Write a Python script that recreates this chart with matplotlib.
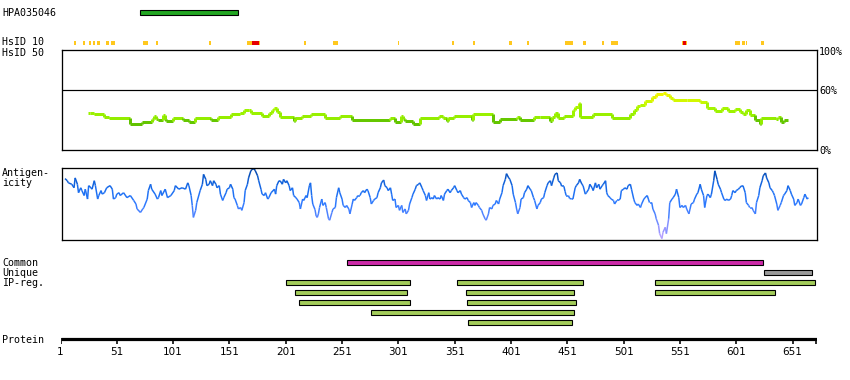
import matplotlib
matplotlib.use("Agg")
import matplotlib.pyplot as plt
from matplotlib.collections import LineCollection
from matplotlib.colors import LinearSegmentedColormap, Normalize

# ---------------- data (residue positions) ----------------
protein_len = 672
tick_pos = [1, 51, 101, 151, 201, 251, 301, 351, 401, 451, 501, 551, 601, 651]

antibody_name = "HPA035046"
antibody_span = (72, 159)

hsid10_yellow = [(13, 15), (21, 23), (26, 28), (30, 32), (33, 36), (41, 44), (46, 49),
                 (74, 79), (86, 88), (133, 135), (167, 171), (177, 178), (217, 219),
                 (243, 247), (301, 302), (349, 350), (367, 369), (399, 402), (415, 417),
                 (449, 456), (465, 468), (482, 484), (490, 496), (553, 557), (600, 604),
                 (606, 609), (609.5, 611), (623, 626)]
hsid10_red = [(171, 177), (554, 556)]

common_span = (255, 625)
unique_span = (626, 668)
ipreg_rows = [
    [(201, 311), (353, 465), (529, 671)],
    [(209, 309), (361, 457), (529, 635)],
    [(213, 311), (362, 459)],
    [(277, 457)],
    [(363, 455)],
]

# similarity (HsID 50), percent, drawn as steps
sim_res = [25, 27, 31, 40, 44, 63, 73, 82, 84, 86, 88, 92, 94, 95, 101, 110, 115, 120, 135,
           141, 152, 160, 164, 168, 170, 180, 186, 189, 191, 193, 196, 208, 209, 215, 223,
           236, 249, 260, 294, 298, 303, 305, 307, 314, 320, 337, 341, 344, 345, 350, 366,
           367, 385, 391, 406, 409, 421, 427, 436, 437, 440, 443, 448, 456, 458, 461, 462,
           474, 491, 507, 510, 513, 516, 520, 526, 530, 536, 539, 542, 545, 557, 569, 575,
           582, 588, 594, 600, 604, 607, 610, 613, 618, 622, 623, 636, 638, 641, 643]
sim_val = [37.5, 37, 36, 33.5, 32, 25.7, 28.3, 31, 34, 31, 30, 35, 31, 29, 31.7, 30, 27.7, 31.7, 30,
           33.3, 36, 37.5, 40, 40.5, 37.3, 34.3, 37, 40, 42.3, 38, 33.3, 29, 31.7, 34.3, 35.7,
           32.3, 34.3, 30, 31.7, 27.7, 34, 31, 29, 25.7, 31.7, 34, 31.7, 29, 31.7, 34.3, 30,
           36.3, 28.3, 30.7, 32.7, 30, 33.3, 32.7, 29.5, 32.7, 36.7, 31.7, 34.3, 40, 43, 46.7, 33.3,
           36, 32, 36, 40, 44, 45, 49, 53.3, 56, 57, 55, 51.7, 50, 50.3, 48.3, 41.7,
           39, 42, 39, 41, 38.3, 35.7, 40, 35, 30, 26.5, 32, 31, 33, 28.3, 30.3]
sim_end = 647

# antigenicity, relative height inside the box (0 = bottom, 100 = top)
ant_res = [5, 7, 8, 11, 13, 14, 16, 17, 19, 20, 22, 23, 25, 26, 28, 29, 31, 32, 34, 35,
           37, 38, 40, 42, 45, 47, 48, 50, 51, 53, 54, 57, 60, 63, 66, 68, 69, 72, 74, 75,
           78, 79, 81, 82, 85, 87, 88, 90, 91, 94, 96, 99, 102, 103, 106, 109, 112, 114, 115, 117,
           118, 119, 121, 122, 125, 127, 128, 130, 131, 133, 134, 136, 137, 139, 140, 142, 143, 145, 146, 148,
           149, 151, 152, 154, 155, 156, 158, 159, 161, 162, 164, 165, 167, 168, 170, 171, 173, 174, 176, 177,
           179, 180, 182, 183, 185, 186, 188, 191, 192, 193, 195, 196, 198, 199, 201, 202, 204, 205, 207, 208,
           210, 211, 213, 214, 216, 217, 219, 220, 222, 223, 224, 225, 227, 228, 229, 230, 231, 233, 234, 236,
           237, 239, 240, 242, 243, 245, 246, 248, 249, 251, 252, 254, 255, 257, 258, 260, 261, 262, 264, 265,
           267, 268, 270, 271, 273, 274, 276, 277, 279, 280, 282, 283, 285, 286, 288, 289, 291, 292, 294, 295,
           296, 298, 299, 301, 302, 304, 305, 307, 308, 310, 311, 313, 314, 316, 317, 319, 320, 322, 323, 325,
           326, 328, 329, 331, 332, 333, 335, 336, 338, 339, 341, 342, 344, 345, 347, 348, 350, 351, 353, 354,
           356, 357, 359, 360, 362, 363, 365, 366, 368, 369, 370, 372, 373, 375, 376, 378, 379, 381, 382, 384,
           385, 387, 388, 390, 391, 393, 394, 396, 397, 399, 400, 402, 403, 405, 406, 407, 409, 410, 412, 413,
           415, 416, 418, 419, 421, 422, 424, 425, 427, 428, 430, 431, 433, 434, 436, 437, 439, 440, 442, 443,
           445, 446, 448, 449, 450, 452, 453, 455, 456, 458, 459, 461, 462, 464, 465, 467, 468, 470, 471, 473,
           474, 476, 477, 479, 480, 482, 483, 485, 486, 487, 489, 490, 492, 493, 495, 496, 498, 499, 501, 502,
           504, 505, 507, 508, 510, 511, 513, 514, 516, 517, 519, 520, 522, 523, 524, 526, 527, 529, 530, 532,
           533, 535, 536, 538, 539, 541, 542, 544, 545, 547, 548, 550, 551, 553, 554, 556, 557, 559, 560, 561,
           563, 564, 566, 567, 569, 570, 572, 573, 575, 576, 578, 579, 581, 582, 584, 585, 587, 588, 590, 591,
           593, 594, 596, 597, 598, 600, 601, 603, 604, 606, 607, 609, 610, 612, 613, 615, 616, 618, 619, 621,
           622, 624, 625, 627, 628, 630, 631, 633, 634, 635, 637, 638, 640, 641, 643, 644, 646, 647, 649, 650,
           652, 653, 655, 656, 658, 659, 661, 662, 664, 665]
ant_val = [86, 83, 80, 78, 73, 87, 78, 66, 73, 69, 62, 71, 57, 76, 73, 71, 83, 76, 57, 62,
           69, 64, 66, 73, 76, 71, 57, 59, 64, 66, 62, 66, 59, 62, 55, 50, 43, 38, 43, 45,
           57, 69, 78, 71, 64, 57, 59, 69, 62, 71, 59, 62, 69, 76, 71, 73, 71, 80, 76, 62,
           48, 31, 41, 52, 69, 78, 92, 85, 76, 78, 83, 76, 83, 78, 73, 76, 64, 55, 59, 66,
           71, 73, 78, 71, 59, 57, 48, 43, 45, 41, 52, 69, 78, 87, 97, 99, 100, 97, 90, 83,
           71, 64, 62, 66, 57, 59, 66, 71, 64, 76, 83, 83, 78, 85, 80, 83, 76, 69, 73, 62,
           59, 57, 52, 43, 57, 55, 62, 59, 76, 80, 62, 50, 42, 33, 31, 36, 45, 57, 48, 52,
           45, 29, 27, 38, 43, 45, 59, 73, 66, 57, 48, 45, 48, 43, 36, 50, 57, 55, 59, 62,
           62, 66, 69, 66, 71, 69, 59, 50, 55, 57, 59, 66, 73, 80, 84, 76, 73, 69, 73, 64,
           55, 57, 45, 48, 41, 48, 38, 43, 36, 41, 50, 59, 64, 71, 76, 78, 80, 73, 69, 62,
           55, 66, 57, 59, 57, 62, 57, 59, 57, 62, 55, 64, 69, 71, 66, 69, 73, 76, 69, 66,
           69, 64, 59, 57, 59, 55, 52, 45, 52, 48, 52, 48, 45, 41, 36, 29, 27, 36, 45, 43,
           48, 50, 55, 50, 57, 66, 76, 85, 93, 87, 85, 76, 64, 52, 43, 36, 45, 57, 59, 66,
           71, 76, 71, 69, 59, 55, 43, 48, 52, 57, 59, 66, 76, 80, 83, 76, 87, 92, 94, 83,
           80, 75, 75, 68, 62, 62, 58, 57, 57, 73, 76, 80, 85, 78, 76, 64, 66, 71, 78, 73,
           69, 80, 73, 78, 71, 76, 78, 83, 66, 62, 59, 57, 55, 50, 55, 55, 57, 69, 71, 73,
           71, 76, 78, 71, 57, 52, 48, 50, 45, 50, 57, 59, 62, 57, 52, 52, 43, 36, 29, 20,
           8, 1, 10, 17, 8, 29, 52, 57, 59, 64, 71, 59, 45, 48, 45, 48, 43, 36, 43, 50,
           52, 57, 64, 66, 78, 71, 62, 45, 62, 64, 59, 64, 83, 97, 85, 78, 71, 66, 57, 55,
           57, 55, 57, 62, 69, 66, 69, 71, 73, 76, 76, 66, 52, 48, 45, 45, 41, 36, 52, 62,
           73, 83, 90, 94, 87, 80, 73, 69, 66, 62, 50, 41, 48, 52, 62, 64, 69, 76, 69, 64,
           57, 48, 52, 57, 48, 50, 59, 64, 57, 59]

# ---------------- layout helpers (reference pixel grid) ----------------
W, H = 850, 380
X0, PX_PER_RES = 60.5, 1.1262


def res_at(px):
    """Residue number that sits at a given pixel column."""
    return 1 + (px - X0) / PX_PER_RES


def add_px_axes(fig, x0, y0, x1, y1):
    return fig.add_axes([x0 / W, 1 - y1 / H, (x1 - x0) / W, (y1 - y0) / H])


def px_lw(px):
    return px * 0.72


mono = "DejaVu Sans Mono"
label_fs = 7.2
narrow = ["Liberation Sans Narrow", "DejaVu Sans"]

fig = plt.figure(figsize=(W / 100, H / 100), dpi=100)
fig.patch.set_facecolor("white")

# ---------------- track axes (bars, HsID marks, protein ruler) ----------------
ax = add_px_axes(fig, X0, 0, 817, H)
ax.set_xlim(1, res_at(817))
ax.set_ylim(H, 0)
ax.axis("off")
ax.patch.set_alpha(0)


def draw_bar(start, end, y, color):
    ax.barh(y, end - start, left=start, height=5, color=color,
            edgecolor="black", linewidth=px_lw(1.1))


draw_bar(*antibody_span, 12, "#22A622")

for s, e in hsid10_yellow:
    ax.bar(s, 4.5, width=e - s, bottom=40.5, align="edge", color="#FFC81E", linewidth=0)
for s, e in hsid10_red:
    ax.bar(s, 4.5, width=e - s, bottom=40.5, align="edge", color="#E60000", linewidth=0)

draw_bar(*common_span, 262.3, "#CC2AA8")
draw_bar(*unique_span, 272.3, "#9A9A9A")
for i, row in enumerate(ipreg_rows):
    for s, e in row:
        draw_bar(s, e, 282.3 + 10 * i, "#A3CC5A")

# protein ruler
ax.hlines(339.3, 1, res_at(817), color="black", linewidth=px_lw(3.2))
ax.vlines(tick_pos + [res_at(816.3)], 338, 343.5, color="black", linewidth=px_lw(1.6))
for t in tick_pos:
    ax.text(t, 352, str(t), ha="center", va="center", fontsize=7.5, family=narrow)

# ---------------- similarity panel ----------------
ax_s = add_px_axes(fig, 62, 50, 817, 150)
ax_s.set_xlim(res_at(62), res_at(817))
ax_s.set_ylim(0, 100)
ax_s.set_xticks([])
ax_s.set_yticks([])
for sp in ax_s.spines.values():
    sp.set_linewidth(px_lw(1.3))
ax_s.axhline(60, color="black", linewidth=px_lw(1.2))

# dark green below ~31 %, lime in the middle, yellow towards 60 %
sim_cmap = LinearSegmentedColormap.from_list(
    "sim", [(0, "#5CBC00"), (0.27, "#66C800"), (0.275, "#92EC00"), (0.5, "#9EF400"),
            (0.625, "#B4F800"), (0.75, "#D2F800"), (0.9, "#EEF500"), (1, "#FFFF00")])
sim_norm = Normalize(20, 60)

segs, seg_vals = [], []
for i in range(len(sim_res)):
    x1 = sim_res[i + 1] if i + 1 < len(sim_res) else sim_end
    segs.append([(sim_res[i], sim_val[i]), (x1, sim_val[i])])
    seg_vals.append(sim_val[i])
    if i + 1 < len(sim_res):
        segs.append([(x1, sim_val[i]), (x1, sim_val[i + 1])])
        seg_vals.append(sim_val[i + 1])
lc = LineCollection(segs, colors=sim_cmap(sim_norm(seg_vals)), linewidths=px_lw(3),
                    capstyle="butt")
ax_s.add_collection(lc)

# ---------------- antigenicity panel ----------------
ax_a = add_px_axes(fig, 62, 168, 817, 240)
ax_a.set_xlim(res_at(62), res_at(817))
ax_a.set_ylim(-1, 101)
ax_a.set_xticks([])
ax_a.set_yticks([])
for sp in ax_a.spines.values():
    sp.set_linewidth(px_lw(1.3))

ant_cmap = LinearSegmentedColormap.from_list(
    "ant", [(0, "#C4A8FF"), (0.12, "#9C96FF"), (0.3, "#5A86FF"), (0.5, "#2F7AFF"),
            (0.7, "#1A6EF0"), (0.88, "#0A58CC"), (1, "#003E99")])
pts = list(zip(ant_res, ant_val))
ant_segs = [[pts[i], pts[i + 1]] for i in range(len(pts) - 1)]
ant_mid = [(ant_val[i] + ant_val[i + 1]) / 2 for i in range(len(pts) - 1)]
lc2 = LineCollection(ant_segs, colors=ant_cmap(Normalize(0, 100)(ant_mid)),
                     linewidths=px_lw(1.5))
ax_a.add_collection(lc2)

# ---------------- text labels ----------------
def label(x, y, s, **kw):
    fig.text(x / W, 1 - y / H, s, fontsize=label_fs, family=mono, va="center", **kw)


label(2, 12.7, antibody_name)
label(2, 42.3, "HsID 10")
label(2, 52.5, "HsID 50")
label(2, 173.5, "Antigen-")
label(2, 183.5, "icity")
label(2, 262.7, "Common")
label(2, 272.7, "Unique")
label(2, 282.7, "IP-reg.")
label(2, 340, "Protein")
label(819, 52.3, "100%")
label(819, 90.7, "60%")
label(819, 151, "0%")

fig.savefig("out.png", dpi=100)
